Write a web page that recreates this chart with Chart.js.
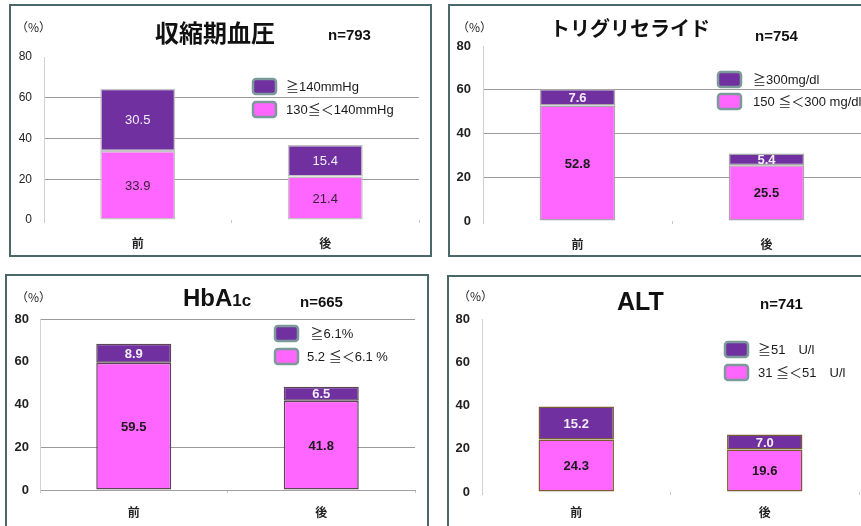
<!DOCTYPE html>
<html lang="ja">
<head>
<meta charset="utf-8">
<script src="https://cdn.jsdelivr.net/npm/chart.js@4/dist/chart.umd.min.js"></script>
<style>
  html, body { margin: 0; padding: 0; background: #fff; }
  body { width: 861px; height: 526px; position: relative; overflow: hidden; }
  canvas { position: absolute; }
  .frame { position: absolute; box-sizing: border-box; border: 2px solid #4a6769; pointer-events: none; }
  .txt { position: absolute; white-space: nowrap; color: #111; }
  .pct { font: 12px "Noto Sans CJK JP", sans-serif; line-height: 12px; color: #222; }
  .ttl { font-family: "Noto Sans CJK JP", sans-serif; font-weight: bold; }
  .lat { font-family: "Liberation Sans", Arial, sans-serif; font-weight: bold; }
  .num { font: bold 15px "Liberation Sans", Arial, sans-serif; line-height: 15px; }
</style>
</head>
<body>
<script>
// Shared category and tick labels
const categories = ['前', '後'];
const yTicks = [0, 20, 40, 60, 80];

// 収縮期血圧 (n=793)
const sbpLow  = [33.9, 21.4];
const sbpHigh = [30.5, 15.4];
const sbpLegend = ['≧140mmHg', '130≦＜140mmHg'];

// トリグリセライド (n=754)
const tgLow  = [52.8, 25.5];
const tgHigh = [7.6, 5.4];
const tgLegend = ['≧300mg/dl', '150 ≦＜300 mg/dl'];

// HbA1c (n=665)
const hbaLow  = [59.5, 41.8];
const hbaHigh = [8.9, 6.5];
const hbaLegend = [' ≧6.1%', '5.2 ≦＜6.1 %'];

// ALT (n=741)
const altLow  = [24.3, 19.6];
const altHigh = [15.2, 7.0];
const altLegend = ['≧51　U/l', '31 ≦＜51　U/l'];

const PINK = '#ff66ff';
const PURPLE = '#7030a0';

// Draws the value labels inside each bar segment and the legend boxes
const panelDecor = {
  id: 'panelDecor',
  afterDatasetsDraw(chart, args, opts) {
    const ctx = chart.ctx;
    ctx.save();
    ctx.textAlign = 'center';
    ctx.textBaseline = 'middle';
    chart.data.datasets.forEach((ds, di) => {
      const meta = chart.getDatasetMeta(di);
      meta.data.forEach((bar, i) => {
        const v = ds.data[i];
        ctx.font = opts.labelFont;
        ctx.fillStyle = ds.labelColor;
        ctx.fillText(v.toFixed(1), bar.x, (bar.y + bar.base) / 2 + 1);
      });
    });
    // legend: top series first
    const L = opts.legend;
    const order = chart.data.datasets.slice().reverse();
    order.forEach((ds, k) => {
      const y = L.y + k * L.gap;
      ctx.beginPath();
      ctx.roundRect(L.x, y, L.w, L.h, 3);
      ctx.fillStyle = ds.backgroundColor;
      ctx.fill();
      ctx.lineWidth = 2.5;
      ctx.strokeStyle = '#7c9a9a';
      ctx.stroke();
      ctx.font = '13px "Liberation Sans", Arial, "Noto Sans CJK JP", sans-serif';
      ctx.fillStyle = '#1a1a1a';
      ctx.textAlign = 'left';
      ctx.fillText(ds.label, L.tx, y + L.h / 2 + 1);
    });
    ctx.restore();
  }
};

function makePanel(p) {
  const cv = document.createElement('canvas');
  cv.width = p.box.w; cv.height = p.box.h;
  cv.style.left = p.box.x + 'px'; cv.style.top = p.box.y + 'px';
  document.body.appendChild(cv);
  const fr = document.createElement('div');
  fr.className = 'frame';
  Object.assign(fr.style, { left: p.box.x + 'px', top: p.box.y + 'px', width: p.box.w + 'px', height: p.box.h + 'px' });
  document.body.appendChild(fr);

  const yW = p.area.l - p.box.x;
  const xH = p.box.y + p.box.h - p.area.b;
  const tickFont = p.bold
    ? { family: '"Liberation Sans", Arial, sans-serif', size: 13, weight: 'bold' }
    : { family: '"Liberation Sans", Arial, sans-serif', size: 12, weight: 'normal' };

  new Chart(cv, {
    type: 'bar',
    data: {
      labels: categories,
      datasets: [
        { label: p.legend[1], data: p.low, backgroundColor: PINK, borderColor: p.barEdge,
          borderWidth: 1.5, borderSkipped: false, labelColor: p.darkLabel },
        { label: p.legend[0], data: p.high, backgroundColor: PURPLE, borderColor: p.barEdge,
          borderWidth: 1.5, borderSkipped: false, labelColor: '#f3eef8' }
      ]
    },
    options: {
      responsive: false,
      animation: false,
      devicePixelRatio: 1,
      layout: { padding: { top: p.area.t - p.box.y, right: p.box.x + p.box.w - p.area.r, left: 0, bottom: 0 } },
      datasets: { bar: { barPercentage: 0.4, categoryPercentage: 1 } },
      plugins: {
        legend: { display: false },
        tooltip: { enabled: false },
        panelDecor: {
          labelFont: (p.bold ? 'bold ' : '') + '13px "Liberation Sans", Arial, sans-serif',
          legend: { x: p.leg.x - p.box.x, y: p.leg.y - p.box.y, w: 23, h: 15, gap: p.leg.gap, tx: p.leg.tx - p.box.x }
        }
      },
      scales: {
        x: {
          stacked: true,
          afterFit: s => { s.height = xH; },
          border: { display: p.baseLine, color: '#a0a0a0' },
          grid: { drawOnChartArea: false, drawTicks: true, tickLength: 3, color: '#c8c8c8' },
          ticks: { color: '#222', padding: p.xPad,
            font: { family: '"Noto Sans CJK JP", sans-serif', size: 12, weight: 'bold' } }
        },
        y: {
          stacked: true,
          min: 0, max: 80,
          afterFit: s => { s.width = yW; },
          afterBuildTicks: s => { s.ticks = yTicks.map(v => ({ value: v })); },
          border: { display: true, color: '#d0d0d0' },
          grid: { drawTicks: false, lineWidth: 1,
            color: c => p.gridAt.includes(c.tick.value) ? '#9a9a9a' : 'rgba(0,0,0,0)' },
          ticks: { color: '#222', padding: p.yPad, font: tickFont }
        }
      }
    },
    plugins: [panelDecor]
  });
}

const panels = [
  { box: { x: 9, y: 4, w: 423, h: 253 }, area: { l: 44, t: 57, r: 419, b: 220 },
    low: sbpLow, high: sbpHigh, legend: sbpLegend, bold: false, barEdge: '#c4c4c4',
    darkLabel: '#3a1e3a', gridAt: [20, 40, 60], baseLine: false, xPad: 13, yPad: 12,
    leg: { x: 253, y: 79, gap: 23, tx: 286 } },
  { box: { x: 448, y: 4, w: 440, h: 253 }, area: { l: 483, t: 46, r: 861, b: 221 },
    low: tgLow, high: tgHigh, legend: tgLegend, bold: true, barEdge: '#a8a8a8',
    darkLabel: '#1a1a1a', gridAt: [20, 40, 60], baseLine: false, xPad: 13, yPad: 12,
    leg: { x: 718, y: 72, gap: 22, tx: 753 } },
  { box: { x: 5, y: 274, w: 424, h: 270 }, area: { l: 40, t: 319, r: 415, b: 490 },
    low: hbaLow, high: hbaHigh, legend: hbaLegend, bold: true, barEdge: '#5b4656',
    darkLabel: '#1a1a1a', gridAt: [0, 20, 80], baseLine: true, xPad: 12, yPad: 11,
    leg: { x: 275, y: 326, gap: 23, tx: 307 } },
  { box: { x: 447, y: 275, w: 440, h: 270 }, area: { l: 482, t: 319, r: 859, b: 492 },
    low: altLow, high: altHigh, legend: altLegend, bold: true, barEdge: '#7a5c34',
    darkLabel: '#1a1a1a', gridAt: [], baseLine: false, xPad: 10, yPad: 12,
    leg: { x: 725, y: 342, gap: 23, tx: 758 } }
];
panels.forEach(makePanel);

// Titles, sample sizes and unit captions
function addText(cls, html, x, y, extra) {
  const d = document.createElement('div');
  d.className = 'txt ' + cls;
  d.innerHTML = html;
  d.style.left = x + 'px'; d.style.top = y + 'px';
  if (extra) Object.assign(d.style, extra);
  document.body.appendChild(d);
}
addText('pct', '（%）', 16, 21);
addText('pct', '（%）', 457, 21);
addText('pct', '（%）', 16, 291);
addText('pct', '（%）', 458, 290);

addText('ttl', '収縮期血圧', 155, 20, { fontSize: '24px', lineHeight: '24px' });
addText('ttl', 'トリグリセライド', 550, 18, { fontSize: '20px', lineHeight: '20px' });
addText('lat', 'HbA<span style="font-size:17px">1c</span>', 183, 286, { fontSize: '24px', lineHeight: '24px' });
addText('lat', 'ALT', 617, 289, { fontSize: '25px', lineHeight: '25px' });

addText('num', 'n=793', 328, 27);
addText('num', 'n=754', 755, 28);
addText('num', 'n=665', 300, 294);
addText('num', 'n=741', 760, 296);
</script>
</body>
</html>
